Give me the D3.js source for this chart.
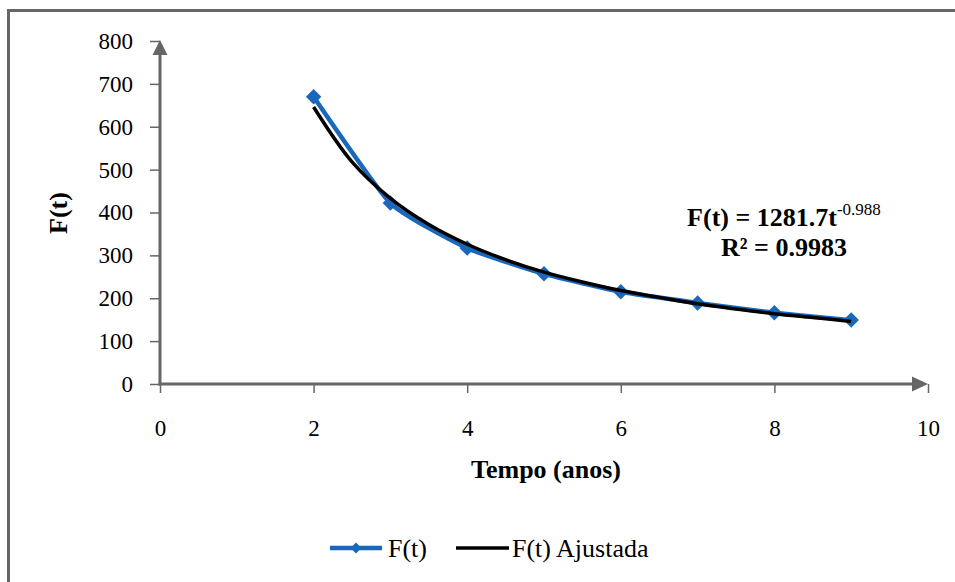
<!DOCTYPE html>
<html>
<head>
<meta charset="utf-8">
<script src="https://cdn.jsdelivr.net/npm/d3@7"></script>
<style>
  html, body { margin: 0; padding: 0; background: #fff; }
  svg { display: block; }
  text { font-family: "Liberation Serif", "DejaVu Serif", serif; fill: #000; }
</style>
</head>
<body>
<svg id="chart" width="955" height="582"></svg>
<script>
// ---- Data ----
const years = [2, 3, 4, 5, 6, 7, 8, 9];
const fValues = [670, 422, 317, 257, 215, 189, 166, 149];
const fittedT = [2, 2.5, 3, 3.5, 4, 4.5, 5, 5.5, 6, 6.5, 7, 7.5, 8, 8.5, 9];
const fittedValues = [646, 518, 433, 372, 326, 290, 261, 238, 218, 202, 187, 175, 164, 155, 146];
const xTicks = [0, 2, 4, 6, 8, 10];
const yTicks = [0, 100, 200, 300, 400, 500, 600, 700, 800];
const seriesNames = ["F(t)", "F(t) Ajustada"];
const equationMain = "F(t) = 1281.7t";
const equationExp = "-0.988";
const r2Text = "R² = 0.9983";
const xTitle = "Tempo (anos)";
const yTitle = "F(t)";

// ---- Layout ----
const svg = d3.select("#chart");
const axisColor = "#666666";
const blue = "#1a68bb";

const x = d3.scaleLinear().domain([0, 10]).range([160, 928]);
const y = d3.scaleLinear().domain([0, 800]).range([384, 41]);

// outer border
svg.append("rect")
  .attr("x", 8.5).attr("y", 10.5)
  .attr("width", 960).attr("height", 600)
  .attr("fill", "none").attr("stroke", axisColor).attr("stroke-width", 3);

// Y axis
const yAxis = svg.append("g")
  .attr("transform", `translate(${x(0)},0)`)
  .call(d3.axisLeft(y).tickValues(yTicks).tickSize(10).tickPadding(17).tickFormat(d3.format("d")));
yAxis.select(".domain").remove();
yAxis.selectAll(".tick line").attr("stroke", axisColor).attr("stroke-width", 1.5);
yAxis.selectAll(".tick text").style("font-size", "23px").style("font-family", "'Liberation Serif', serif");

// X axis
const xAxis = svg.append("g")
  .attr("transform", `translate(0,${y(0)})`)
  .call(d3.axisBottom(x).tickValues(xTicks).tickSize(9).tickPadding(27).tickFormat(d3.format("d")));
xAxis.select(".domain").remove();
xAxis.selectAll(".tick line").attr("stroke", axisColor).attr("stroke-width", 1.5);
xAxis.selectAll(".tick text").style("font-size", "23px").style("font-family", "'Liberation Serif', serif");

// axis lines with arrows
svg.append("line")
  .attr("x1", x(0)).attr("y1", y(0) + 1.5)
  .attr("x2", x(0)).attr("y2", y(800) + 13)
  .attr("stroke", axisColor).attr("stroke-width", 3);
svg.append("path")
  .attr("d", `M${x(0) - 7.5},${y(800) + 14} L${x(0)},${y(800) - 1} L${x(0) + 7.5},${y(800) + 14} Z`)
  .attr("fill", axisColor);

svg.append("line")
  .attr("x1", x(0) - 1.5).attr("y1", y(0))
  .attr("x2", x(10) - 14).attr("y2", y(0))
  .attr("stroke", axisColor).attr("stroke-width", 3);
svg.append("path")
  .attr("d", `M${x(10) - 16},${y(0) - 7.5} L${x(10)},${y(0)} L${x(10) - 16},${y(0) + 7.5} Z`)
  .attr("fill", axisColor);

// ---- Series ----
const dataF = years.map((t, i) => ({ t, v: fValues[i] }));
const dataFit = fittedT.map((t, i) => ({ t, v: fittedValues[i] }));

const lineBlue = d3.line().x(d => x(d.t)).y(d => y(d.v)).curve(d3.curveCardinal.tension(0.5));
const lineFit = d3.line().x(d => x(d.t)).y(d => y(d.v)).curve(d3.curveCatmullRom.alpha(0.5));

svg.append("path")
  .datum(dataF)
  .attr("d", lineBlue)
  .attr("fill", "none").attr("stroke", blue).attr("stroke-width", 4.5)
  .attr("stroke-linejoin", "round");

const diamond = d3.symbol().type(d3.symbolSquare).size(120);
svg.append("g").selectAll("path")
  .data(dataF)
  .join("path")
  .attr("d", diamond)
  .attr("transform", d => `translate(${x(d.t)},${y(d.v)}) rotate(45)`)
  .attr("fill", blue);

svg.append("path")
  .datum(dataFit)
  .attr("d", lineFit)
  .attr("fill", "none").attr("stroke", "#000").attr("stroke-width", 3.5)
  .attr("stroke-linejoin", "round");

// ---- Equation ----
const eq = svg.append("text")
  .attr("x", 784).attr("y", 226)
  .attr("text-anchor", "middle")
  .style("font-size", "26px").style("font-weight", "bold");
eq.append("tspan").text(equationMain);
eq.append("tspan").attr("dy", -11).style("font-size", "17px").style("font-weight", "normal").text(equationExp);

svg.append("text")
  .attr("x", 784).attr("y", 256)
  .attr("text-anchor", "middle")
  .style("font-size", "26px").style("font-weight", "bold")
  .text(r2Text);

// ---- Axis titles ----
svg.append("text")
  .attr("x", 546).attr("y", 478)
  .attr("text-anchor", "middle")
  .style("font-size", "26px").style("font-weight", "bold")
  .text(xTitle);

svg.append("text")
  .attr("transform", "translate(67,213) rotate(-90)")
  .attr("text-anchor", "middle")
  .style("font-size", "26px").style("font-weight", "bold")
  .text(yTitle);

// ---- Legend ----
const legY = 548;
const leg = svg.append("g");
leg.append("line")
  .attr("x1", 330).attr("x2", 382).attr("y1", legY).attr("y2", legY)
  .attr("stroke", blue).attr("stroke-width", 4.5);
leg.append("path")
  .attr("d", d3.symbol().type(d3.symbolSquare).size(60))
  .attr("transform", `translate(356,${legY}) rotate(45)`)
  .attr("fill", blue);
leg.append("text")
  .attr("x", 388).attr("y", legY + 9)
  .style("font-size", "26px")
  .text(seriesNames[0]);
leg.append("line")
  .attr("x1", 456).attr("x2", 509).attr("y1", legY).attr("y2", legY)
  .attr("stroke", "#000").attr("stroke-width", 3.5);
leg.append("text")
  .attr("x", 512).attr("y", legY + 9)
  .style("font-size", "26px")
  .text(seriesNames[1]);
</script>
</body>
</html>
